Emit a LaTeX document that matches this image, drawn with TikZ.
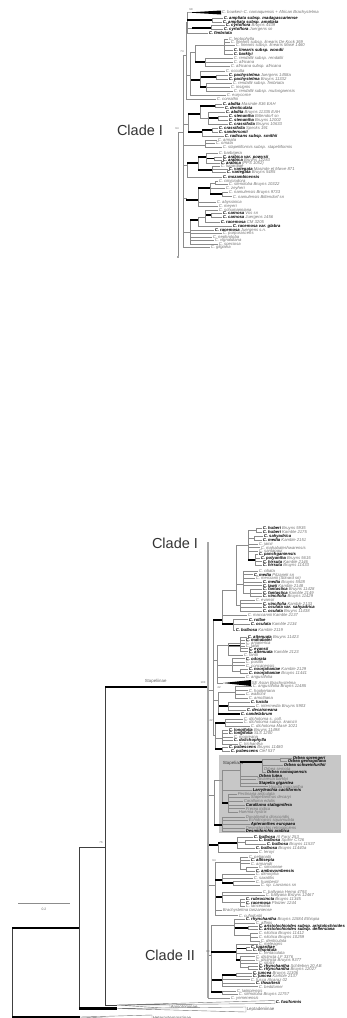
\documentclass[tikz,border=0pt]{standalone}
\usepackage{fontspec}
\setmainfont{Liberation Sans}
\newcommand{\taxon}[1]{\textcolor{black}{\bfseries #1}}
\tikzset{
  br/.style={draw=black!45, line width=0.5pt},
  bb/.style={draw=black!75, line width=0.7pt},
  bk/.style={draw=black, line width=1.4pt},
  bkk/.style={draw=black, line width=2.2pt},
  sv/.style={draw=black!35, line width=1.5pt},
  lf/.style={anchor=west, inner sep=0.6pt, text=black!55, font=\fontsize{4.2}{4.2}\selectfont\itshape},
  grp/.style={anchor=west, inner sep=0.6pt, text=black!60, font=\fontsize{4.4}{4.4}\selectfont},
  bs/.style={inner sep=0pt, text=black!60, font=\fontsize{2.8}{2.8}\selectfont},
  clade/.style={text=black!80, font=\fontsize{14.5}{15}\selectfont},
  dot/.style={circle, fill=black!70, inner sep=0pt, minimum size=1.6pt},
  tri/.style={draw=black!55, line width=0.4pt, fill=white}
}
\begin{document}
\begin{tikzpicture}[x=1pt,y=-1pt]
\useasboundingbox (0,0) rectangle (346,1018);

% ---------- upper tree: Clade I ----------
\node[clade] (cladeA) at (140,130) {Clade I};
\coordinate (R) at (178,132);
\node[dot] (Rd) at (178,257) {};
\draw[br] (R) -- (Rd);
\foreach \nm/\pa/\sty/\xx/\yy in {
  N1/R/br/183/132, A/N1/br/186/55, A1/A/br/187/22, tb/A1/br/188/12.5,
  amp/A1/bk/212/20, cyr/A1/br/192/28, cyr2/cyr/bk/211/28,
  A2/A/br/190/75, L1/A2/br/195/52, L2/L1/br/224/45, L3/L1/bk/205/62,
  occ/A2/bk/200/80, pach/occ/bk/216/77, rend/occ/bk/206/87,
  B/N1/br/188/124, B1/B/bk/200/114, abd/B1/bk/215/106, B1b/B1/br/208/118,
  sten/B1b/bk/218/118, B2/B/bk/202/132, cs/B2/bk/212/130,
  C/N1/br/205/145, D/N1/br/187/165, D1/D/bk/198/163, ar/D1/bk/206/157,
  ar2/ar/bk/214/158.5, va/D1/bk/212/170,
  E/N1/br/186/198, E1/E/bk/198/200, e2/E1/bk/210/188, e3/e2/br/215/183,
  e4/e2/bk/222/194,
  F/N1/br/190/232, F1/F/bk/198/220, f2/F1/br/205/217, f3/f2/bk/211/215}{
  \coordinate (\nm) at (\xx,\yy);
  \draw[br] (\pa) -- (\pa |- \nm);
  \draw[\sty] (\pa |- \nm) -- (\nm);
}
\foreach \pa/\sty/\xx/\yy/\lab [count=\i] in {
  amp/br/223/18/{\taxon{C. ampliata subsp. madagascariense}},
  amp/br/222/22/{\taxon{C. ampliata subsp. ampliata}},
  cyr2/br/225/25.5/{\taxon{C. cyrtoflora} Bruyns 4439},
  cyr2/br/223/29.5/{\taxon{C. cyrtoflora} Juergens sn},
  A1/br/208/33/{\taxon{C. fimbriata}},
  L2/br/228/39/{C. leptophylla},
  L2/br/230/42/{C. linearis subsp. linearis De Kock 369},
  L2/br/235/45.5/{C. linearis subsp. linearis Masé 1460},
  L2/br/233/50/{\taxon{C. linearis subsp. woodii}},
  L2/br/233/54/{\taxon{C. barklyi}},
  L3/br/233/58/{C. rendallii subsp. rendallii},
  L3/br/233/62/{C. africana},
  L3/br/230/66/{C. africana subsp. africana},
  occ/br/225/71/{C. occulta},
  pach/br/228/75/{\taxon{C. pachystelma} Juergens 1458a},
  pach/br/228/79/{\taxon{C. pachystelma} Bruyns 11332},
  rend/br/232/83/{C. rendallii subsp. fimbriata},
  rend/br/230/87/{C. insignis},
  rend/br/233/91/{C. rendallii subsp. mutongaensis},
  A2/br/226/95/{C. eurycorne},
  A/br/216/99/{C. conrathii},
  abd/br/222/104/{\taxon{C. abdita} Masinde 836 EAH},
  abd/br/224/107.5/{\taxon{C. denticulata}},
  B1b/br/225/112/{\taxon{C. abdita} Bruyns 11335 EAH},
  sten/br/228/116/{\taxon{C. stenantha} Bittendorf sn},
  sten/br/228/120/{\taxon{C. stenantha} Bruyns 12002},
  B1b/br/228/124/{\taxon{C. crassifolia} Bruyns 10633},
  cs/br/218/128/{\taxon{C. crassifolia} Specks 191},
  cs/br/218/132/{\taxon{C. sandersonii}},
  B2/br/224/136/{\taxon{C. radicans subsp. smithii}},
  C/br/217/140/{C. armata},
  C/br/215/143.5/{C. ornata},
  C/br/222/147.5/{C. stapeliiformis subsp. stapeliiformis},
  ar/br/218/153/{C. barbigera},
  ar2/br/222/157/{\taxon{C. arabica var. powysii}},
  ar2/br/222/160/{\taxon{C. arabica} Bruyns 12283},
  ar/br/220/163/{\taxon{C. arabica} (PPS 1052)},
  va/br/220/166/{C. lugardiae},
  va/br/228/169/{\taxon{C. variegata} Masinde et Mwve 871},
  va/br/226/172.5/{\taxon{C. variegata} Bruyns 5485},
  D/br/222/177/{\taxon{C. mozambicensis}},
  e3/br/218/181/{C. cimiciodora},
  e3/br/228/184.5/{C. stenoloba Bruyns 10322},
  e2/br/225/188/{C. zeyheri},
  e4/br/228/192/{C. namulensis Bruyns 9733},
  e4/br/232/196.5/{C. namulensis Bittendorf sn},
  E1/br/216/202/{C. abyssinica},
  E1/br/218/206/{C. meyeri},
  f2/br/218/210/{C. schumanniana},
  f3/br/222/213.5/{\taxon{C. carnosa} Vos sn},
  f3/br/222/217/{\taxon{C. carnosa} Juergens 1456},
  f2/br/220/222/{\taxon{C. racemosa} CM 3205},
  F1/br/232/226/{\taxon{C. racemosa var. glabra}},
  F/br/214/230/{\taxon{C. racemosa} Juergens s.n.},
  F/br/222/233.5/{C. purpurascens},
  F/br/212/237/{C. nephroloba},
  F/br/214/240.5/{C. vignaldiana},
  F/br/218/244/{C. speciosa},
  N1/br/210/247.5/{C. gilgiana}}{
  \node[lf] (t\i) at (\xx,\yy) {\lab};
  \draw[br] (\pa) -- (\pa |- t\i.west);
  \draw[\sty] (\pa |- t\i.west) -- (t\i.west);
}
\node[lf] (bow) at (221,12.5) {C. bowkeri--C. namaquensis + African Brachystelma};
\fill[black] (tb) -- ([yshift=2pt]bow.west) -- ([yshift=-2pt]bow.west) -- cycle;
\node[bs] at (191,10) {98};
\node[bs] at (182,52) {74};
\node[bs] at (177,129) {94};

% ---------- lower tree: whole Stapeliinae ----------
\fill[black!22] (219,755) rectangle (341,833);
\node[grp, text=black!75] (stp) at (222,763) {Stapeliads};

\coordinate (BR) at (12,972);
\coordinate (H1) at (79,928);
\coordinate (H2) at (105,847);
\coordinate (St) at (208,687);
\coordinate (Ani) at (117,1005);
\coordinate (Lep) at (117,1008.5);
\coordinate (Het) at (80,1017);
\draw[bb] (BR) -- (BR |- H1);
\draw[bkk] (BR |- H1) -- (H1);
\draw[bb] (BR) -- (BR |- Het);
\draw[bkk] (BR |- Het) -- (Het);
\draw[bb] (H1) -- (H1 |- H2) -- (H2);
\draw[bb] (H1) -- (H1 |- Lep);
\draw[bkk] (H1 |- Lep) -- (Lep);
\draw[bb] (H2) -- (H2 |- St);
\draw[bkk] (H2 |- St) -- (St);
\draw[bb] (H2) -- (H2 |- Ani) -- (Ani);

\node[dot] (cI) at (208,543) {};
\node[clade] (cladeB) at (175,543) {Clade I};
\node[clade] (cladeC) at (170,955) {Clade II};
\node[grp] (stl) at (144,681) {Stapeliinae};

\foreach \nm/\pa/\sty/\xx/\yy in {
  UA/St/br/213/690, UB/UA/bk/222/620, UC/UB/br/236/590, UD/UC/br/248/545,
  ud1/UD/br/256/530, ud2/UD/br/254/538, ud3/UD/bk/255/560,
  UE/UC/br/243/584, ue1/UE/br/250/593, UF/UC/br/240/605, UG/UB/bk/233/624,
  UH/UA/br/217/660, UI/UH/br/228/645, ui1/UI/bk/240/646, UJ/UH/br/232/665,
  uj1/UJ/br/240/671, sea/UH/br/223/683,
  UK/UA/br/218/700, uk1/UK/br/235/692, uk2/UK/bk/228/706,
  UL/UA/br/215/735, ul1/UL/bk/225/723, ul2/UL/br/222/738, ul3/UL/bk/222/749,
  SP/St/br/214/795, sp1/SP/br/222/780, sp2/sp1/br/240/770, sp3/sp2/bk/262/762,
  sp4/sp3/br/280/759.5, sp5/sp1/bk/228/803, sp6/SP/bk/222/825,
  BU/St/bk/218/845, bu1/BU/bk/237/843, bu2/bu1/br/245/842,
  AM/St/br/215/885, am2/AM/br/240/862, am3/am2/br/246/869, am4/AM/bk/222/880,
  am5/am4/bk/233/883, am6/AM/bk/222/897, am7/am6/br/240/902,
  CII/St/br/211/955, c2/CII/br/234/925, c3/c2/bk/248/928, c4/c2/br/250/935,
  c5/CII/bk/236/952, c6/c5/bk/246/948.5, c7/c5/bk/240/960, c8/c7/br/248/967.5,
  c9/CII/bk/222/980, c10/c9/bk/236/975, c11/CII/bk/222/992}{
  \coordinate (\nm) at (\xx,\yy);
  \draw[br] (\pa) -- (\pa |- \nm);
  \draw[\sty] (\pa |- \nm) -- (\nm);
}
\foreach \pa/\sty/\xx/\yy/\lab [count=\i] in {
  ud1/br/262/528/{\taxon{C. huberi} Bruyns 5935},
  ud1/br/262/532/{\taxon{C. huberi} Kamble 2175},
  ud2/br/263/536/{\taxon{C. sahyadrica}},
  ud2/br/262/540/{\taxon{C. media} Kamble 2151},
  UD/br/258/544/{C. jainii},
  UD/br/260/547.5/{C. mahabaleshwarensis},
  UD/br/258/551/{C. santapaui},
  ud3/br/258/554.5/{\taxon{C. panchganiensis}},
  ud3/br/260/558/{\taxon{C. polyantha} Bruyns 5615},
  ud3/br/262/561.5/{\taxon{C. hirsuta} Kamble 2146},
  ud3/br/262/565/{\taxon{C. hirsuta} Bruyns 11433},
  UE/br/258/571/{C. ciliata},
  UE/br/253/574.5/{\taxon{C. media} Pitzanek sn},
  UE/br/255/578/{C. mercianii (Stinard sn)},
  UE/br/262/582/{\taxon{C. media} Bruyns 5928},
  UE/br/262/585.5/{\taxon{C. lawii} Kamble 2148},
  ue1/br/262/589/{\taxon{C. fantastica} Bruyns 11428},
  ue1/br/262/593/{\taxon{C. fantastica} Kamble 2149},
  ue1/br/262/596.5/{\taxon{C. vincifolia} Bruyns 11429},
  UF/br/255/600/{C. evansii},
  UF/br/262/603.5/{\taxon{C. vincifolia} Kamble 2133},
  UF/br/262/607/{\taxon{C. oculata var. sahyadrica}},
  UF/br/262/611/{\taxon{C. oculata} Bruyns 11438},
  UB/br/247/615/{C. maccannii Kamble 2137},
  UG/br/248/619.5/{\taxon{C. rollae}},
  UG/br/250/624/{\taxon{C. oculata} Kamble 2134},
  UG/br/235/630/{\taxon{C. bulbosa} Kamble 2119},
  ui1/br/247/637/{\taxon{C. attenuata} Bruyns 11423},
  ui1/br/245/640/{\taxon{C. mahabalei}},
  UI/br/245/643/{C. anjanerica},
  UI/br/245/646/{C. lawii},
  ui1/br/248/648.5/{\taxon{C. evansii}},
  ui1/br/248/651.5/{\taxon{C. attenuata} Kamble 2123},
  UI/br/243/655/{C. fantii},
  UJ/br/245/658.5/{\taxon{C. odorata}},
  UJ/br/245/662/{C. pusilla},
  UJ/br/245/665.5/{C. concanensis},
  uj1/br/248/669/{\taxon{C. noorjahaniae} Kamble 2129},
  uj1/br/248/673/{\taxon{C. noorjahaniae} Bruyns 11441},
  UH/br/245/677/{C. angustifolia},
  uk1/br/252/686.5/{C. angustifolia Bruyns 11485},
  uk1/br/248/690.5/{C. hookeriana},
  uk1/br/245/694/{C. wallichii},
  uk1/br/248/698/{C. arnottiana},
  uk2/br/250/702/{\taxon{C. lucida}},
  uk2/br/255/706/{C. intermedia Bruyns 5903},
  uk2/br/246/710/{\taxon{C. decaisneana}},
  UK/bk/240/714/{\taxon{C. candelabrum}},
  ul1/br/243/719/{C. dichotoma s. coll.},
  ul1/br/243/722.5/{C. dichotoma subsp. krainzii},
  ul1/br/250/726/{C. dichotoma Masé 1021},
  ul2/br/228/730/{\taxon{C. longifolia} Bruyns 11498},
  ul2/br/228/733.5/{\taxon{C. longifolia} SLS 1200},
  ul2/br/233/737/{C. mooreana},
  ul2/br/233/740.5/{\taxon{C. dolichophylla}},
  ul2/br/238/744/{C. trichantha},
  ul3/br/228/747.5/{\taxon{C. pubescens} Bruyns 11480},
  ul3/br/230/751/{\taxon{C. pubescens} Clef 537},
  sp4/br/292/758/{\taxon{Orbea sprengeri}},
  sp4/br/287/761.5/{\taxon{Orbea gemugofana}},
  sp3/br/283/765/{\taxon{Orbea schweinfurthii}},
  sp3/br/263/768.5/{Orbea semota},
  sp3/br/266/772/{\taxon{Orbea namaquensis}},
  sp2/br/258/776/{\taxon{Orbea lutea}},
  sp2/br/256/779.5/{Tavaresia barklyi},
  sp2/br/258/783/{\taxon{Stapelia gigantea}},
  sp2/br/268/786.5/{Hoodia macrantha},
  sp1/br/252/790/{\taxon{Larryleachia cactiformis}},
  sp5/br/237/794/{Pectinaria articulata},
  sp5/br/250/797.5/{Stapelianthus decaryi},
  sp5/br/243/801/{Caralluma edulis},
  sp5/br/245/805/{\taxon{Caralluma stalagmifera}},
  sp5/br/245/808.5/{Frerea indica},
  sp5/br/238/812/{Huernia hystrix},
  sp6/br/245/817/{Duvaliandra dioscoridis},
  sp6/br/248/820.5/{Echidnopsis squamulata},
  sp6/br/250/824/{\taxon{Apteranthes europaea}},
  sp6/br/245/828/{Desmidorchis retrospiciens},
  sp6/br/245/831/{\taxon{Desmidorchis arabica}},
  bu1/br/253/837/{\taxon{C. bulbosa} Al Farsi 253},
  bu2/br/258/840.5/{\taxon{C. bulbosa} Spiller C726},
  bu2/br/266/844/{\taxon{C. bulbosa} Bruyns 11537},
  bu1/br/255/848/{\taxon{C. bulbosa} Bruyns 11440a},
  BU/br/258/852/{C. leroyi},
  am2/br/248/857/{C. petignatii},
  am2/br/250/860.5/{\taxon{C. albisepta}},
  am2/br/250/863.5/{C. armandii},
  am3/br/258/867/{C. simoneae},
  am3/br/255/871/{\taxon{C. ambovombensis}},
  am4/br/255/874.5/{C. dimorpha},
  am4/br/253/878/{C. saxatilis},
  am5/br/255/881.5/{C. humbertii},
  am5/br/260/885/{C. sp. Lavranos sn},
  am6/br/262/892/{C. ballyana Hemp 4793},
  am6/br/265/895.5/{C. ballyana Bruyns 12467},
  am7/br/245/899/{\taxon{C. rubrocincta} Bruyns 11345},
  am7/br/245/902.5/{\taxon{C. racemosa} Plaizier 1244},
  am7/br/245/906/{C. lanceolata},
  AM/br/222/910.5/{Brachystelma tanzaniense},
  AM/br/238/915.5/{C. cufodontii},
  c2/br/245/919.5/{\taxon{C. rhynchantha} Bruyns 11584 Ethiopia},
  c2/br/255/923/{C. affinis},
  c3/br/258/926.5/{\taxon{C. aristolochioides subsp. aristolochioides}},
  c3/br/258/929.5/{\taxon{C. aristolochioides subsp. deflersiana}},
  c4/br/258/933/{C. nilotica Bruyns 11412},
  c4/br/258/937/{C. nilotica Bruyns 10259},
  c4/br/260/941/{C. denticulata},
  c5/br/258/944/{C. meleagris},
  c6/br/250/947/{\taxon{C. lugardiae}},
  c6/br/252/950/{\taxon{C. hispidula}},
  c5/br/258/953/{C. tentaculata},
  c7/br/255/956.5/{C. distincta LF 3376},
  c7/br/255/960/{C. distincta Bruyns 9377},
  c7/br/258/963/{C. stolzii},
  c8/br/258/966/{\taxon{C. rhynchantha} Schlieben 20 AB},
  c8/br/258/969.5/{\taxon{C. rhynchantha} Bruyns 12027},
  c10/br/252/973/{\taxon{C. juncea} Bruyns 11306},
  c10/br/252/976.5/{\taxon{C. juncea} Kamble 2137},
  c9/br/250/979.5/{C. fusca Alcaraz 02},
  c9/br/255/983/{\taxon{C. thwaitesii}},
  c9/br/258/986.5/{C. beddomei},
  c11/br/236/991/{C. laikipiensis},
  c11/br/238/994.5/{C. stenoloba Bruyns 11757}}{
  \node[lf] (b\i) at (\xx,\yy) {\lab};
  \draw[br] (\pa) -- (\pa |- b\i.west);
  \draw[\sty] (\pa |- b\i.west) -- (b\i.west);
}
\node[lf] (yem) at (230,998) {C. yemenensis};
\draw[br] (St |- yem) -- (yem);
\draw[sv] (cI) -- (cI |- yem);

% collapsed groups
\node[lf] (seaL) at (251,683) {SE Asian Brachystelma};
\fill[black] (sea) -- ([yshift=3pt]seaL.west) -- ([yshift=-3pt]seaL.west) -- cycle;
\node[lf] (fus) at (275,1002) {\taxon{C. fusiformis}};
\draw[tri] (Ani) -- ([yshift=1.5pt]fus.west) -- ([yshift=-1.5pt]fus.west) -- cycle;
\node[grp] (ani) at (170,1006.5) {Anisotominae};
\draw[tri] (Ani) -- ([yshift=1.5pt]ani.west) -- ([yshift=-2pt]ani.west) -- cycle;
\node[grp] (lep) at (246,1009.5) {Leptadeniinae};
\draw[tri] (Lep) -- ([yshift=2.5pt]lep.west) -- ([yshift=-2.5pt]lep.west) -- cycle;
\node[grp] (het) at (152,1017.5) {Heterostemmatinae};
\draw[tri] (Het) -- ([yshift=2.5pt]het.west) -- ([yshift=-2.5pt]het.west) -- cycle;

% support values
\node[bs] at (203,683) {100};
\node[bs] at (101,843) {76};
\node[bs] at (219,687.5) {42};
\node[bs] at (211,721) {42};
\node[bs] at (214,861) {94};
\node[bs] at (208,952) {80};

% scale
\coordinate (sb1) at (18,903);
\coordinate (sb2) at (70,903);
\draw[br] (sb1) -- (sb2);
\node[bs, font=\fontsize{3.4}{3.4}\selectfont] (sbl) at (44,909) {0.2};
\end{tikzpicture}
\end{document}
